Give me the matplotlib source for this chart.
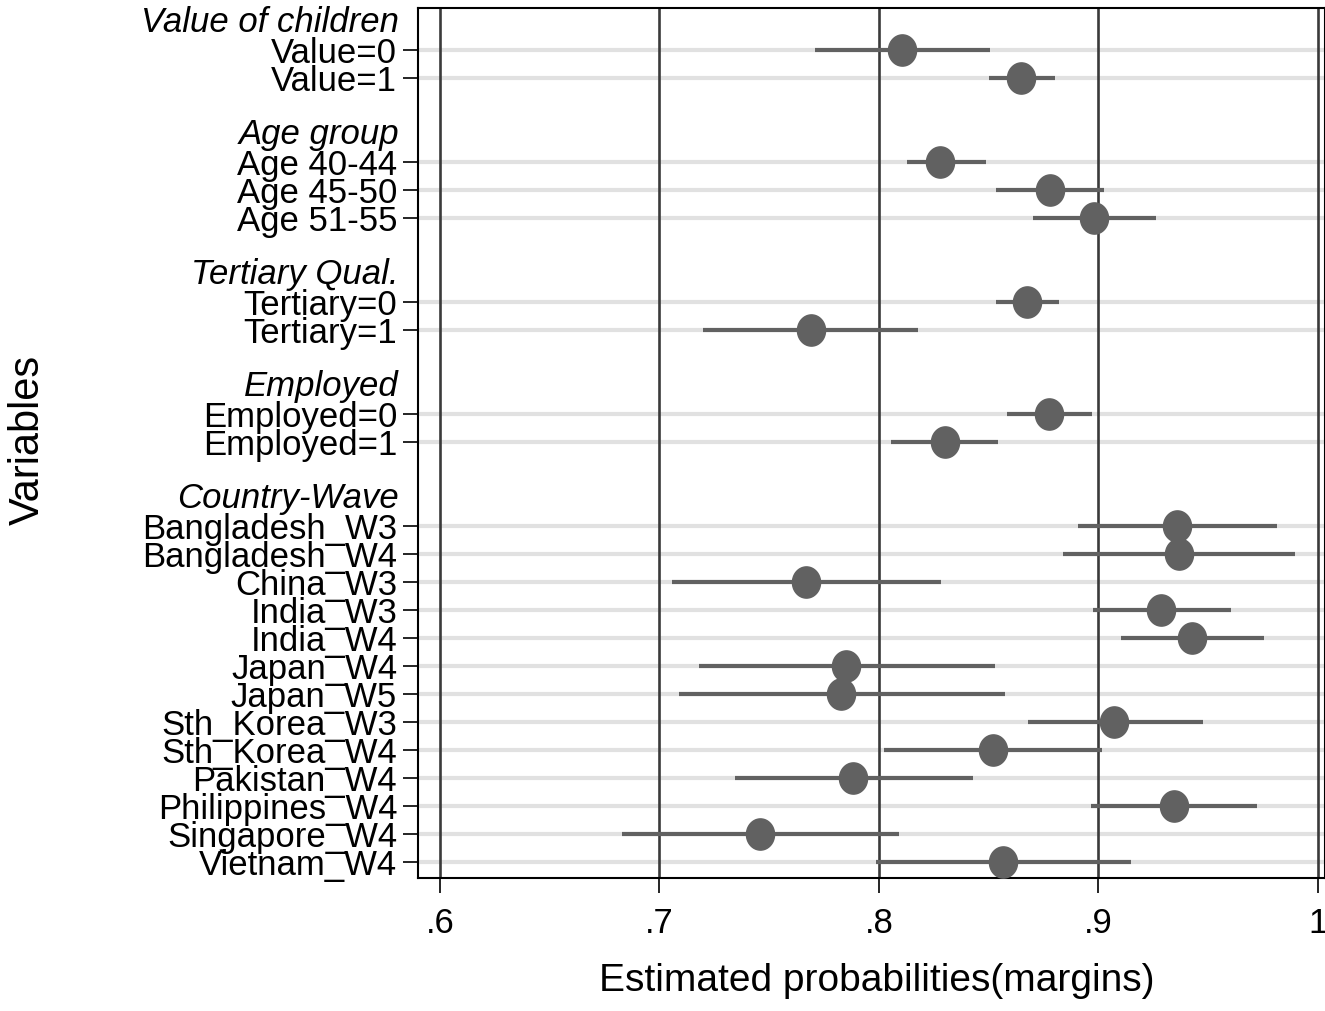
import numpy as np
import matplotlib
matplotlib.use("Agg")
import matplotlib.pyplot as plt
from matplotlib.path import Path

plt.rcParams['font.family'] = ['Liberation Sans', 'DejaVu Sans']

# Group headers and their variable labels
groups = ["Value of children", "Age group", "Tertiary Qual.", "Employed", "Country-Wave"]
group_labels = [
    ["Value=0", "Value=1"],
    ["Age 40-44", "Age 45-50", "Age 51-55"],
    ["Tertiary=0", "Tertiary=1"],
    ["Employed=0", "Employed=1"],
    ["Bangladesh_W3", "Bangladesh_W4", "China_W3", "India_W3", "India_W4",
     "Japan_W4", "Japan_W5", "Sth_Korea_W3", "Sth_Korea_W4", "Pakistan_W4",
     "Philippines_W4", "Singapore_W4", "Vietnam_W4"],
]

# Estimated margins with 95% confidence bounds
margins = [0.8105, 0.8647,
           0.8278, 0.8779, 0.8980,
           0.8674, 0.7690,
           0.8774, 0.8300,
           0.9358, 0.9367, 0.7667, 0.9285, 0.9426,
           0.7850, 0.7827, 0.9070, 0.8519, 0.7882,
           0.9344, 0.7458, 0.8565]
ci_low = [0.7710, 0.8500,
          0.8128, 0.8533, 0.8700,
          0.8533, 0.7198,
          0.8583, 0.8055,
          0.8907, 0.8838, 0.7057, 0.8975, 0.9103,
          0.7180, 0.7089, 0.8679, 0.8023, 0.7344,
          0.8966, 0.6829, 0.7986]
ci_high = [0.8506, 0.8800,
           0.8487, 0.9025, 0.9260,
           0.8820, 0.8178,
           0.8970, 0.8540,
           0.9813, 0.9895, 0.8282, 0.9604, 0.9754,
           0.8528, 0.8574, 0.9476, 0.9016, 0.8428,
           0.9722, 0.8091, 0.9148]

xticks = [0.6, 0.7, 0.8, 0.9, 1.0]
xtick_labels = [".6", ".7", ".8", ".9", "1"]

W, H = 1325, 1011
fig = plt.figure(figsize=(W / 100, H / 100), dpi=100)
ax_w = 1325 - 418
ax = fig.add_axes([418 / W, 1 - 878 / H, ax_w / W, (878 - 8) / H])

# Row positions: header row, then one row per variable, then a blank row
header_pos, row_pos, row_lab = [], [], []
pos = 0
for g, labs in zip(groups, group_labels):
    header_pos.append(pos)
    pos += 1
    for lab in labs:
        row_pos.append(pos)
        row_lab.append(lab)
        pos += 1
    pos += 1

ax.set_xlim(0.6 - 22 / 2195, 1.0 + 7 / 2195)
ax.set_ylim(30.57, -0.5)

for y in row_pos:
    ax.axhline(y, color="#e1e1e1", lw=3.0, zorder=0)
for x in xticks:
    ax.axvline(x, color="#3a3a3a", lw=1.9, zorder=1)

mark_col = "#616161"
ax.hlines(row_pos, ci_low, ci_high, color=mark_col, lw=3.0, zorder=2)
t = np.linspace(0, 2 * np.pi, 60)
ellipse = Path(np.c_[0.9 * np.cos(t), np.sin(t)], closed=True)
ax.plot(margins, row_pos, ls="none", marker=ellipse, ms=22.5,
        color=mark_col, zorder=3)

ax.set_yticks(row_pos)
ax.set_yticklabels(row_lab, fontsize=25)
ax.set_xticks(xticks)
ax.set_xticklabels(xtick_labels, fontsize=25)
ax.tick_params(axis="y", length=11, width=1.2, pad=4)
ax.tick_params(axis="x", length=11, width=1.2, pad=10)

for g, yp in zip(groups, header_pos):
    ax.text(-19 / ax_w, yp, g, transform=ax.get_yaxis_transform(),
            ha="right", va="center", fontsize=25, style="italic")

for s in ax.spines.values():
    s.set_linewidth(1.5)
    s.set_color("black")

fig.text(28 / W, 1 - 440 / H, "Variables", rotation=90, fontsize=30,
         ha="center", va="center")
fig.text(877 / W, 1 - 991 / H, "Estimated probabilities(margins)",
         fontsize=28, ha="center", va="baseline")

fig.savefig("out.png", dpi=100)
